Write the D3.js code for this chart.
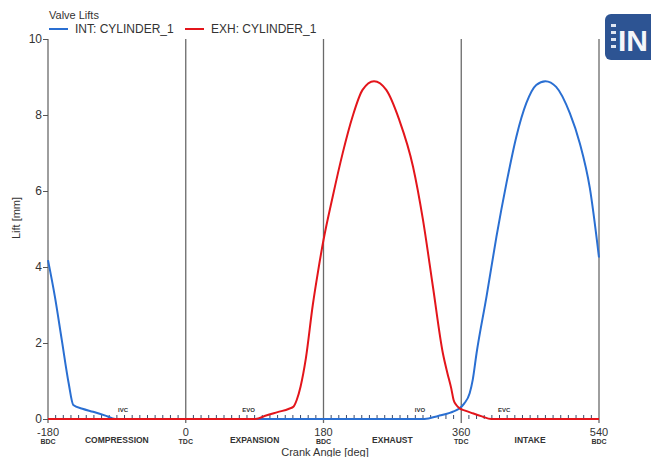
<!DOCTYPE html>
<html><head><meta charset="utf-8">
<script src="https://cdn.jsdelivr.net/npm/d3@7"></script>
<style>html,body{margin:0;padding:0;background:#fff;}svg{display:block;font-family:"Liberation Sans",Arial,sans-serif;}</style>
</head><body>
<svg id="c" width="651" height="457"></svg>
<script>
// ---- data ----
const intAngle = [-180,-171,-162,-153,-147,-135,-121,-105,-92,312,330,345,349,358,364,371,375,380,393,406,419,432,445,458,470,484,502,515,528,540];
const intLift  = [4.18,3.22,2.08,0.94,0.37,0.27,0.19,0.09,0,0,0.08,0.16,0.19,0.28,0.41,0.68,1.03,1.73,3.22,4.8,6.2,7.43,8.31,8.79,8.89,8.74,8.04,7.25,6.08,4.25];
const exhAngle = [-180,91,105,120,135,141,145,150,157,166,173,180,192,205,218,231,246,262,279,297,310,323,336,342,347,350,353.5,358,365,375,387,399,540];
const exhLift  = [0,0,0.09,0.18,0.27,0.33,0.5,0.85,1.6,3.0,3.9,4.71,5.85,6.99,7.96,8.66,8.89,8.66,7.87,6.64,5.24,3.48,1.73,1.2,0.8,0.5,0.37,0.28,0.22,0.15,0.07,0,0];
const xMajorTicks = [-180,0,180,360,540];
const xMajorSub = ["BDC","TDC","BDC","TDC","BDC"];
const phaseNames = ["COMPRESSION","EXPANSION","EXHAUST","INTAKE"];
const phaseMid = [-90,90,270,450];
const eventNames = ["IVC","EVO","IVO","EVC"];
const eventAngle = [-82,82,306,416];
const yTicks = [0,2,4,6,8,10];
const seriesNames = ["INT: CYLINDER_1","EXH: CYLINDER_1"];
const seriesColors = ["#2a6fd2","#e3151b"];
const chartTitle = "Valve Lifts";
const xTitle = "Crank Angle [deg]";
const yTitle = "Lift [mm]";

// ---- layout ----
const svg = d3.select("#c");
const x = d3.scaleLinear().domain([-180,540]).range([48,599]);
const y = d3.scaleLinear().domain([0,10]).range([419,39]);

// minor ticks every 10 deg
const minor = d3.range(-170,540,10).filter(d => d % 180 !== 0);
svg.append("g").selectAll("line").data(minor).join("line")
  .attr("x1",d=>x(d)).attr("x2",d=>x(d)).attr("y1",y(0)).attr("y2",y(0)-4)
  .attr("stroke","#3a4a6a").attr("stroke-width",1);

// vertical major lines
svg.append("g").selectAll("line").data(xMajorTicks).join("line")
  .attr("x1",d=>x(d)).attr("x2",d=>x(d)).attr("y1",y(10)).attr("y2",y(0)+4)
  .attr("stroke","#6a6a6a").attr("stroke-width",1.3);

// y axis
const yAxis = d3.axisLeft(y).tickValues(yTicks).tickSize(5).tickFormat(d3.format("d"));
const gy = svg.append("g").attr("transform","translate(48,0)").call(yAxis);
gy.select(".domain").remove();
gy.selectAll(".tick line").attr("stroke","#555").attr("stroke-width",1);
gy.selectAll(".tick text").attr("font-size",12).attr("fill","#333").attr("x",-6).attr("dy","0.3em")
  .attr("font-family","Liberation Sans, Arial, sans-serif");

// x tick labels
const gx = svg.append("g");
xMajorTicks.forEach((d,i)=>{
  gx.append("text").attr("x",x(d)).attr("y",435.5).attr("text-anchor","middle")
    .attr("font-size",11).attr("fill","#333").text(d);
  gx.append("text").attr("x",x(d)).attr("y",443.5).attr("text-anchor","middle")
    .attr("font-size",7).attr("font-weight","bold").attr("fill","#333").text(xMajorSub[i]);
});
phaseNames.forEach((n,i)=>{
  gx.append("text").attr("x",x(phaseMid[i])).attr("y",443).attr("text-anchor","middle")
    .attr("font-size",8.5).attr("font-weight","bold").attr("fill","#333").text(n);
});
eventNames.forEach((n,i)=>{
  gx.append("text").attr("x",x(eventAngle[i])).attr("y",412).attr("text-anchor","middle")
    .attr("font-size",6).attr("font-weight","bold").attr("fill","#333").text(n);
});
svg.append("text").attr("x",325).attr("y",455.5).attr("text-anchor","middle")
  .attr("font-size",11).attr("fill","#333").text(xTitle);
svg.append("text").attr("transform","translate(20,218) rotate(-90)").attr("text-anchor","middle")
  .attr("font-size",11).attr("fill","#333").text(yTitle);

// lines
const line = d3.line().x(d=>x(d[0])).y(d=>y(d[1])).curve(d3.curveMonotoneX);
const intData = intAngle.map((a,i)=>[a,intLift[i]]);
const exhData = exhAngle.map((a,i)=>[a,exhLift[i]]);
svg.append("path").datum(intData).attr("d",line).attr("fill","none")
  .attr("stroke",seriesColors[0]).attr("stroke-width",2);
svg.append("path").datum(exhData).attr("d",line).attr("fill","none")
  .attr("stroke",seriesColors[1]).attr("stroke-width",2);

// title & legend
svg.append("text").attr("x",49).attr("y",19).attr("font-size",11).attr("fill","#333").text(chartTitle);
const legX = [49,185];
seriesNames.forEach((n,i)=>{
  svg.append("line").attr("x1",legX[i]).attr("x2",legX[i]+19).attr("y1",29).attr("y2",29)
    .attr("stroke",seriesColors[i]).attr("stroke-width",2);
  svg.append("text").attr("x",legX[i]+26).attr("y",33).attr("font-size",12).attr("fill","#333").text(n);
});

// logo
const lg = svg.append("g");
lg.append("rect").attr("x",605).attr("y",14).attr("width",60).attr("height",46).attr("rx",6)
  .attr("fill","#2d5493");
[24,31,38,45].forEach(v=>lg.append("rect").attr("x",611).attr("y",v).attr("width",5).attr("height",3).attr("fill","#dfe6f2"));
lg.append("text").attr("x",618).attr("y",51).attr("font-size",30).attr("font-weight","bold")
  .attr("fill","#f4f6fa").attr("font-family","Liberation Sans Narrow, Arial Narrow, sans-serif").text("IN");
</script>
</body></html>
